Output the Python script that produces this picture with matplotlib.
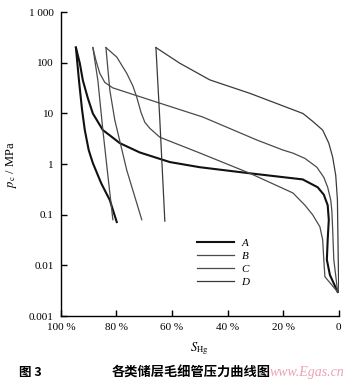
import matplotlib.pyplot as plt
from matplotlib.ticker import FixedLocator, FixedFormatter

# mercury saturation (%) and capillary pressure (MPa), injection and withdrawal branches
a_in_s = [94.6, 93.2, 92.1, 90.3, 88.5, 84.9, 82.4, 78.8, 71.6, 60.8, 50.0, 32.0, 13.0, 7.6,
          5.4, 4.0, 3.6, 4.0, 4.3, 3.2, 0.4]
a_in_p = [200, 98, 45, 20, 10, 4.7, 3.7, 2.6, 1.7, 1.1, 0.87, 0.66, 0.50, 0.35,
          0.25, 0.155, 0.08, 0.032, 0.013, 0.0065, 0.003]
a_out_s = [94.6, 93.5, 92.4, 91.4, 90.0, 88.5, 85.5, 82.4, 79.9]
a_out_p = [200, 45, 12, 4.7, 1.9, 1.05, 0.42, 0.195, 0.072]

b_in_s = [88.5, 87.4, 86.0, 84.2, 81.3, 64.4, 48.9, 29.5, 20.1, 16.5, 12.2, 7.9, 5.4, 4.0,
          2.9, 2.5, 2.2, 1.8, 0.4]
b_in_p = [200, 112, 62, 41, 32, 16, 8.5, 3.0, 1.9, 1.65, 1.3, 0.87, 0.55, 0.35,
          0.195, 0.12, 0.05, 0.013, 0.003]
b_out_s = [88.5, 86.7, 84.9, 83.1, 81.3]
b_out_p = [200, 45, 4.7, 0.6, 0.08]

c_in_s = [83.8, 79.9, 76.3, 74.1, 72.7, 71.2, 69.8, 68.0, 64.4, 50.0, 32.0, 16.5, 12.2, 9.4,
          6.8, 5.8, 5.4, 5.0, 0.4]
c_in_p = [200, 130, 62, 35, 21, 10.6, 6.7, 5.1, 3.4, 1.66, 0.66, 0.27, 0.155, 0.10,
          0.058, 0.032, 0.013, 0.006, 0.003]
c_out_s = [83.8, 82.4, 80.6, 76.3, 70.9]
c_out_p = [200, 29, 7.4, 0.76, 0.08]

d_in_s = [65.8, 57.2, 46.4, 32.0, 12.9, 9.4, 5.8, 3.6, 2.2, 1.1, 0.5, 0.4, 0.2, 0.0]
d_in_p = [200, 98, 46, 25, 10, 7.0, 4.7, 2.6, 1.37, 0.6, 0.2, 0.08, 0.013, 0.003]
d_out_s = [65.8, 64.4, 62.6]
d_out_p = [200, 7.4, 0.075]

y_ticks = [1e-3, 1e-2, 1e-1, 1, 10, 100, 1000]
y_labels = ["0.001", "0.01", "0.1", "1", "10", "100", "1 000"]
x_ticks = [100, 80, 60, 40, 20, 0]
x_labels = ["100 %", "80 %", "60 %", "40 %", "20 %", "0"]

plt.rcParams['font.family'] = ['Liberation Serif', 'DejaVu Serif']
plt.rcParams['mathtext.fontset'] = 'stix'

fig = plt.figure(figsize=(3.5, 3.8), dpi=100)
ax = fig.add_axes([0.174, 0.168, 0.794, 0.8])

curves = [
    ("A", a_in_s, a_in_p, a_out_s, a_out_p, "#111111", 1.5),
    ("B", b_in_s, b_in_p, b_out_s, b_out_p, "#4a4a4a", 0.9),
    ("C", c_in_s, c_in_p, c_out_s, c_out_p, "#4a4a4a", 0.9),
    ("D", d_in_s, d_in_p, d_out_s, d_out_p, "#3a3a3a", 0.9),
]
for name, s_in, p_in, s_out, p_out, col, lw in curves:
    ax.plot(s_in, p_in, color=col, lw=lw, label=name, solid_joinstyle='round')
    ax.plot(s_out, p_out, color=col, lw=lw, solid_joinstyle='round')

ax.set_yscale('log')
ax.set_ylim(1e-3, 1e3)
ax.set_xlim(100, 0)
ax.yaxis.set_major_locator(FixedLocator(y_ticks))
ax.yaxis.set_major_formatter(FixedFormatter(y_labels))
ax.yaxis.set_minor_locator(FixedLocator([]))
ax.set_xticks(x_ticks)
ax.set_xticklabels(x_labels)

for side in ['top', 'right']:
    ax.spines[side].set_visible(False)
for side in ['left', 'bottom']:
    ax.spines[side].set_linewidth(1.0)
ax.tick_params(direction='in', length=4, width=1, labelsize=8, pad=5)

ax.set_ylabel(r"$p_{\mathrm{c}}$ / MPa", fontsize=9, labelpad=7)
ax.set_xlabel(r"$S_{\mathrm{Hg}}$", fontsize=9, labelpad=6)

leg = ax.legend(loc='upper left', bbox_to_anchor=(0.49, 0.258), frameon=False,
                handlelength=3.3, handletextpad=0.7, labelspacing=0.3,
                borderpad=0, borderaxespad=0, prop={'size': 8, 'style': 'italic'})

fig.text(0.055, 0.021, "图 3", fontsize=9, fontweight='bold', va='center',
         family=['Noto Sans CJK SC', 'DejaVu Sans'])
fig.text(0.32, 0.021, "各类储层毛细管压力曲线图", fontsize=9.5, fontweight='bold', va='center',
         family=['Noto Sans CJK SC', 'DejaVu Sans'])
fig.text(0.985, 0.021, "www.Egas.cn", fontsize=10, style='italic', color='#eaa3b4',
         ha='right', va='center')

fig.savefig("out.png", dpi=100)
